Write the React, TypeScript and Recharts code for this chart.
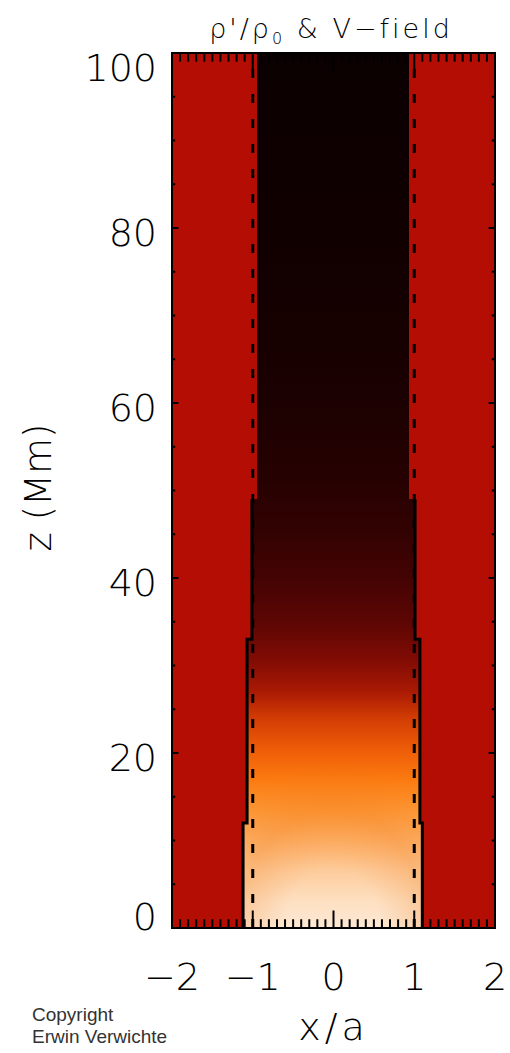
import React from 'react';
import { ComposedChart, XAxis, YAxis, Scatter, ReferenceArea, ReferenceLine, Label } from 'recharts';

// axis ticks
const xMajorTicks = [-2, -1, 0, 1, 2];
const yMajorTicks = [0, 20, 40, 60, 80, 100];
const xMinorPerMajor = 10;
const yMinorPerMajor = 4;

// density colour along the tube centre, z (Mm) -> colour
const gradZ = [0, 3, 6.5, 10, 13.5, 17, 20, 24, 27, 30.5, 35, 40, 45, 51, 60, 72, 85, 100];
const gradColor = [
  '#fde8d4', '#fde0c2', '#fdcc9c', '#fdb068', '#fd9634', '#fb7a10', '#f06008', '#d23c04', '#aa1a04',
  '#820c04', '#5c0604', '#440303', '#330202', '#270101', '#1c0101', '#140000', '#0f0000', '#0b0000',
];
const outsideColor = '#b40d03';
// extra orange toward the tube walls near the foot
const footZ = [0, 26];
const footTint = '#f07a18';

// tube edge (where the outer red ends), piecewise in z
const fillZ = [0, 12, 33, 49, 100];
const fillLeft = [-1.12, -1.07, -1.01, -0.95];
const fillRight = [1.1, 1.07, 1.01, 0.93];

// solid contour
const solidZ = [0, 12, 12, 33, 33, 49];
const solidLeft = [-1.12, -1.12, -1.07, -1.07, -1.01, -1.01];
const solidRight = [1.1, 1.1, 1.07, 1.07, 1.01, 1.01];

// dashed lines x = +-a
const dashX = [-1.0, 1.0];
const dashZ = [0, 100];

const W = 510;
const H = 1053;
const TOP = 53;
const BOTTOM = 928;
const LEFT = 172;
const RIGHT = 495;

const thinFont = "'DejaVu Sans', sans-serif";

const minorTicks = (major: number[], per: number) => {
  const out: number[] = [];
  for (let i = 0; i < major.length - 1; i++) {
    const step = (major[i + 1] - major[i]) / per;
    for (let k = 0; k < per; k++) out.push(major[i] + k * step);
  }
  out.push(major[major.length - 1]);
  return out;
};

const fmtX = (v: number) => (v < 0 ? `\u2212${Math.abs(v)}` : `${v}`);

const XTick = (props: any) => {
  const { x, y, payload } = props;
  return (
    <text x={x} y={y + 62} textAnchor="middle" fontFamily={thinFont} fontWeight={200} fontSize={38} fill="#000">
      {fmtX(payload.value)}
    </text>
  );
};

const YTick = (props: any) => {
  const { x, y, payload } = props;
  // keep labels inside the frame height
  const cy = Math.min(Math.max(y + 4, TOP + 14), BOTTOM - 12);
  return (
    <text x={x - 15} y={cy} dy="0.36em" textAnchor="end" fontFamily={thinFont} fontWeight={200} fontSize={38} fill="#000">
      {payload.value}
    </text>
  );
};

const YTitle = (props: any) => {
  const { viewBox } = props;
  const cx = viewBox.x + 38;
  const cy = viewBox.y + viewBox.height / 2 - 3;
  return (
    <text x={cx} y={cy} dy="0.36em" transform={`rotate(-90, ${cx}, ${cy})`} textAnchor="middle"
      fontFamily={thinFont} fontWeight={200} fontSize={37} fill="#000">
      z (Mm)
    </text>
  );
};

const XTitle = (props: any) => {
  const { viewBox } = props;
  const cx = viewBox.x + viewBox.width / 2;
  return (
    <text x={cx} y={viewBox.y + 112} textAnchor="middle" fontFamily={thinFont} fontWeight={200} fontSize={38}
      letterSpacing={4} fill="#000">
      x/a
    </text>
  );
};

const NoDot = () => <g />;

export default function App() {
  const xMinor = minorTicks(xMajorTicks, xMinorPerMajor);
  const yMinor = minorTicks(yMajorTicks, yMinorPerMajor);
  const leftSolid = solidZ.map((z, i) => ({ x: solidLeft[i], z }));
  const rightSolid = solidZ.map((z, i) => ({ x: solidRight[i], z }));
  const dashLines = dashX.map((x) => dashZ.map((z) => ({ x, z })));

  return (
    <div style={{ position: 'absolute', left: 0, top: 0, width: W, height: H, background: '#fff' }}>
      <ComposedChart width={W} height={H} margin={{ top: TOP, right: W - RIGHT, bottom: 0, left: 0 }}>
        <defs>
          <linearGradient id="tubeGrad" x1="0" y1="1" x2="0" y2="0">
            {gradZ.map((z, i) => (
              <stop key={i} offset={`${z}%`} stopColor={gradColor[i]} />
            ))}
          </linearGradient>
          <radialGradient id="footGrad" cx="0.5" cy="1" r="0.75">
            <stop offset="0" stopColor={footTint} stopOpacity={0} />
            <stop offset="0.35" stopColor={footTint} stopOpacity={0} />
            <stop offset="0.7" stopColor={footTint} stopOpacity={0.25} />
            <stop offset="1" stopColor={footTint} stopOpacity={0} />
          </radialGradient>
        </defs>
        <XAxis type="number" dataKey="x" domain={[-2, 2]} ticks={xMajorTicks} interval={0} allowDataOverflow
          tick={<XTick />} tickLine={false} axisLine={false} tickSize={0} tickMargin={0} height={H - BOTTOM}>
          <Label content={<XTitle />} />
        </XAxis>
        <YAxis type="number" dataKey="z" domain={[0, 100]} ticks={yMajorTicks} interval={0} allowDataOverflow
          tick={<YTick />} tickLine={false} axisLine={false} tickSize={0} tickMargin={0} width={LEFT}>
          <Label content={<YTitle />} />
        </YAxis>

        {/* tube interior */}
        <ReferenceArea x1={-2} x2={2} y1={0} y2={100} fill="url(#tubeGrad)" fillOpacity={1} stroke="none" />
        <ReferenceArea x1={fillLeft[0]} x2={fillRight[0]} y1={footZ[0]} y2={footZ[1]} fill="url(#footGrad)"
          fillOpacity={1} stroke="none" />
        {/* outer medium */}
        {fillLeft.map((xl, i) => (
          <ReferenceArea key={`l${i}`} x1={-2} x2={xl} y1={fillZ[i]} y2={fillZ[i + 1]} fill={outsideColor}
            fillOpacity={1} stroke="none" shapeRendering="crispEdges" />
        ))}
        {fillRight.map((xr, i) => (
          <ReferenceArea key={`r${i}`} x1={xr} x2={2} y1={fillZ[i]} y2={fillZ[i + 1]} fill={outsideColor}
            fillOpacity={1} stroke="none" shapeRendering="crispEdges" />
        ))}

        <Scatter data={leftSolid} shape={<NoDot />} line={{ stroke: '#000', strokeWidth: 3 }} lineType="joint"
          isAnimationActive={false} legendType="none" />
        <Scatter data={rightSolid} shape={<NoDot />} line={{ stroke: '#000', strokeWidth: 3 }} lineType="joint"
          isAnimationActive={false} legendType="none" />
        {dashLines.map((d, i) => (
          <Scatter key={`d${i}`} data={d} shape={<NoDot />}
            line={{ stroke: '#000', strokeWidth: 3, strokeDasharray: '9 16' }} lineType="joint"
            isAnimationActive={false} legendType="none" />
        ))}

        {/* inward tick marks, bottom and top */}
        {xMinor.map((t) => {
          const len = xMajorTicks.includes(t) ? 2 : 1;
          return (
            <React.Fragment key={`xt${t}`}>
              <ReferenceLine segment={[{ x: t, y: 0 }, { x: t, y: len }]} stroke="#000" strokeWidth={2} />
              <ReferenceLine segment={[{ x: t, y: 100 }, { x: t, y: 100 - len }]} stroke="#000" strokeWidth={2} />
            </React.Fragment>
          );
        })}
        {/* inward tick marks, left and right */}
        {yMinor.map((t) => {
          const len = yMajorTicks.includes(t) ? 0.08 : 0.04;
          return (
            <React.Fragment key={`yt${t}`}>
              <ReferenceLine segment={[{ x: -2, y: t }, { x: -2 + len, y: t }]} stroke="#000" strokeWidth={2} />
              <ReferenceLine segment={[{ x: 2, y: t }, { x: 2 - len, y: t }]} stroke="#000" strokeWidth={2} />
            </React.Fragment>
          );
        })}

        {/* frame */}
        <ReferenceArea x1={-2} x2={2} y1={0} y2={100} fill="none" stroke="#000" strokeWidth={2} />
      </ComposedChart>

      <div style={{ position: 'absolute', left: 331, top: 14, transform: 'translateX(-50%)', whiteSpace: 'nowrap',
        fontFamily: thinFont, fontWeight: 200, fontSize: 27, letterSpacing: 3, color: '#000', lineHeight: '30px' }}>
        ρ'/ρ<sub style={{ fontSize: 16 }}>0</sub> &amp; V{'\u2212'}field
      </div>
      <div style={{ position: 'absolute', left: 32, top: 1004, fontFamily: "'Liberation Sans', Arial, sans-serif",
        fontSize: 19, lineHeight: '22px', color: '#333' }}>
        Copyright<br />Erwin Verwichte
      </div>
    </div>
  );
}
